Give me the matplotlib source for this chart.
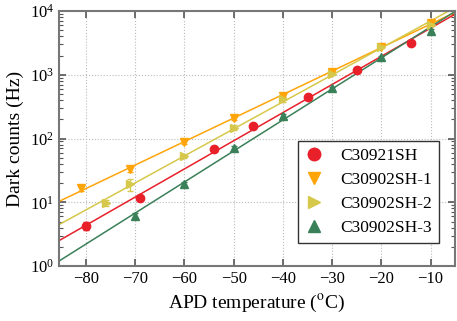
import numpy as np
import matplotlib
matplotlib.use('Agg')
import matplotlib.pyplot as plt
from matplotlib.lines import Line2D
from matplotlib.ticker import LogLocator, NullFormatter

plt.rcParams['font.family'] = ['Liberation Serif', 'DejaVu Serif']
plt.rcParams['mathtext.fontset'] = 'stix'

# data
t_red = [-80, -69, -54, -46, -35, -25, -14]
c_red = [4.3, 11.5, 68, 157, 447, 1200, 3110]
e_red = [0.6, 1.2, 5, 10, 25, 60, 150]

t_org = [-81, -71, -60, -50, -40, -30, -20, -10]
c_org = [16.6, 33, 89, 207, 470, 1090, 2760, 6480]
e_org = [1.5, 3, 6, 12, 25, 50, 130, 300]

t_yel = [-76, -71, -60, -50, -40, -30, -20, -10]
c_yel = [9.8, 19.1, 54, 148, 412, 1040, 2760, 6000]
e_yel = [1.0, 4, 4, 12, 35, 50, 130, 300]

t_grn = [-70, -60, -50, -40, -30, -20, -10]
c_grn = [6.15, 19.2, 72, 228, 612, 1870, 4920]
e_grn = [0.6, 1.5, 5, 12, 30, 90, 250]

series = [
    ('C30921SH', t_red, c_red, e_red, '#e8202a', 'o'),
    ('C30902SH-1', t_org, c_org, e_org, '#ffa50a', 'v'),
    ('C30902SH-2', t_yel, c_yel, e_yel, '#d6c84a', '>'),
    ('C30902SH-3', t_grn, c_grn, e_grn, '#3a8058', '^'),
]

fig = plt.figure(figsize=(4.57, 3.21), dpi=100)
ax = fig.add_axes([0.129, 0.171, 0.867, 0.795])

xfit = np.linspace(-85.5, -5, 50)
handles = []
for name, t, c, e, col, m in series:
    ax.errorbar(t, c, yerr=e, fmt=m, color=col, ms=6, capsize=2.5,
                elinewidth=1, zorder=3)
    p = np.polyfit(t, np.log10(c), 1)
    ax.plot(xfit, 10 ** np.polyval(p, xfit), color=col, lw=1.1, zorder=2)
    handles.append(Line2D([], [], ls='none', marker=m, color=col, ms=9, label=name))

ax.set_yscale('log')
ax.set_xlim(-85.5, -5)
ax.set_ylim(1, 1e4)
ax.set_xticks([-80, -70, -60, -50, -40, -30, -20, -10])
ax.yaxis.set_minor_locator(LogLocator(base=10, subs=np.arange(2, 10)))
ax.yaxis.set_minor_formatter(NullFormatter())
ax.grid(True, which='major', ls=':', color='#bbbbbb', lw=0.8)

ax.tick_params(which='both', direction='in', top=True, right=True,
               color='#555555', labelsize=12)
ax.tick_params(which='major', length=5, width=1.2)
ax.tick_params(which='minor', length=3, width=0.8)
for s in ax.spines.values():
    s.set_color('#777777')
    s.set_linewidth(1.5)

ax.set_xlabel('APD temperature ($^{\\mathrm{o}}$C)', fontsize=14)
ax.set_ylabel('Dark counts (Hz)', fontsize=14)

leg = ax.legend(handles=handles, loc='lower right', bbox_to_anchor=(0.958, 0.09),
                fontsize=12.5, fancybox=False, edgecolor='#333333', framealpha=1,
                handlelength=1.0, handletextpad=1.0, borderpad=0.4,
                borderaxespad=0, labelspacing=0.45)
leg.get_frame().set_linewidth(1.0)

fig.savefig('out.png', dpi=100)
